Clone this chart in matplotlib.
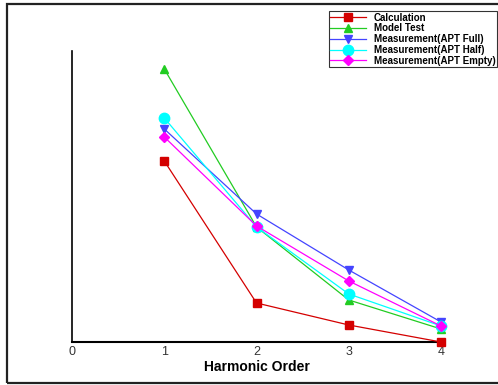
import matplotlib.pyplot as plt
from matplotlib.patches import Rectangle

orders = [1, 2, 3, 4]
calculation = [181, 39, 17, 0]
model_test = [273, 115, 42, 13]
apt_full = [213, 128, 72, 20]
apt_half = [224, 115, 48, 16]
apt_empty = [205, 116, 61, 16]

plt.rcParams['font.family'] = ['Liberation Sans', 'DejaVu Sans']

fig = plt.figure(figsize=(4.98, 3.85), dpi=100)
ax = fig.add_axes([0.1446, 0.1117, 0.741, 0.756])

ax.plot(orders, calculation, color='#d40000', lw=0.9, marker='s', ms=5.5, label='Calculation', clip_on=False, zorder=5)
ax.plot(orders, model_test, color='#22cc22', lw=0.9, marker='^', ms=6, label='Model Test', clip_on=False)
ax.plot(orders, apt_full, color='#4444ff', lw=0.9, marker='v', ms=6, label='Measurement(APT Full)', clip_on=False)
ax.plot(orders, apt_half, color='#00ffff', lw=0.9, marker='o', ms=7.5, label='Measurement(APT Half)', clip_on=False)
ax.plot(orders, apt_empty, color='#ff00ff', lw=0.9, marker='D', ms=5, label='Measurement(APT Empty)', clip_on=False)

ax.set_xlim(0, 4)
ax.set_ylim(0, 291)
ax.set_xticks([0, 1, 2, 3, 4])
ax.set_yticks([])
ax.tick_params(axis='x', length=0, pad=3, labelsize=9, labelcolor='#333333')
ax.spines['top'].set_visible(False)
ax.spines['right'].set_visible(False)
ax.spines['left'].set_linewidth(1.2)
ax.spines['bottom'].set_linewidth(1.5)
ax.set_xlabel('Harmonic Order', fontsize=10, fontweight='bold', labelpad=1)

leg = fig.legend(loc='upper right', bbox_to_anchor=(0.998, 0.971), fontsize=7,
                 frameon=True, fancybox=False, edgecolor='black', handlelength=3.7,
                 borderpad=0.15, labelspacing=0.08, handletextpad=0.8, borderaxespad=0)
leg.get_frame().set_linewidth(0.8)
for t in leg.get_texts():
    t.set_fontweight('bold')

fig.patches.append(Rectangle((7 / 498, 2 / 385), 1.2, 379 / 385, transform=fig.transFigure,
                             fill=False, edgecolor='#222222', lw=1.6, clip_on=False))

fig.savefig('out.png', dpi=100)
